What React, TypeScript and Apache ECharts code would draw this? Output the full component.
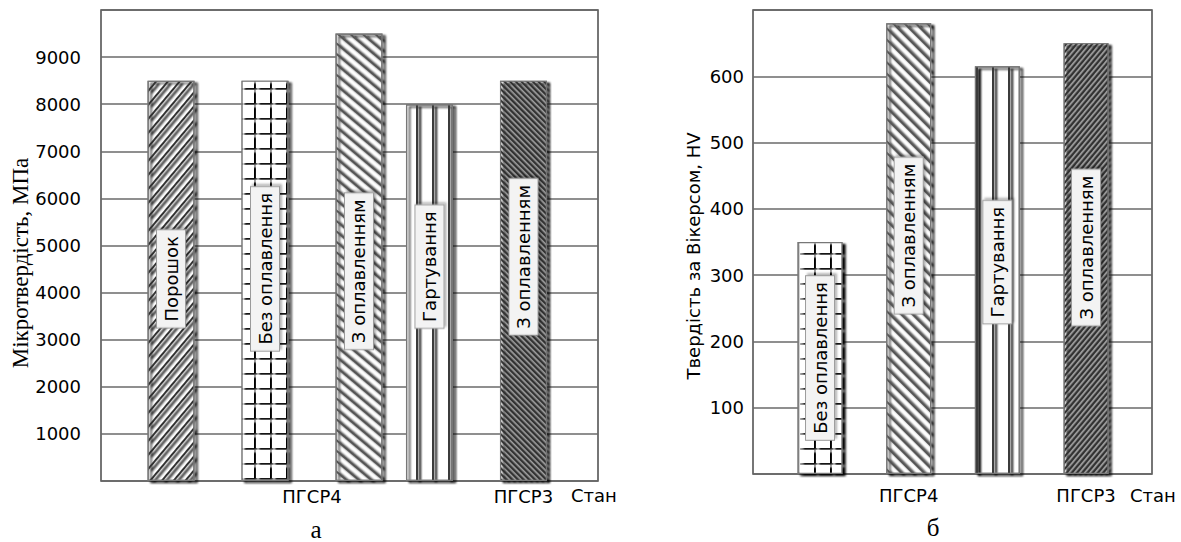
import React, { useEffect, useRef } from 'react';
import * as echarts from 'echarts';

// ---------- data ----------
const leftCategories = ['Порошок', 'Без оплавлення', 'З оплавленням', 'Гартування', 'З оплавленням'];
const leftValues = [8500, 8500, 9500, 8000, 8500];
const leftGroups = ['ПГСР4', 'ПГСР3'];
const leftYTitle = 'Мікротвердість, МПа';

const rightCategories = ['Без оплавлення', 'З оплавленням', 'Гартування', 'З оплавленням'];
const rightValues = [350, 680, 615, 650];
const rightGroups = ['ПГСР4', 'ПГСР3'];
const rightYTitle = 'Твердість за Вікерсом, HV';

const xTitle = 'Стан';
const captions = ['а', 'б'];

// ---------- layout (axis units / px shifts) ----------
const leftSlots = [0, 1, 2, 2.75, 3.75];
const leftGroupAt = [1.5, 3.75];
const leftLabelShift = [-2, -12, 14, -26, -24];
const rightSlots = [0, 1, 2, 3];
const rightGroupAt = [1, 3];
const rightLabelShift = [0, -13, -8, -11];

const SANS = 'DejaVu Sans';
const SERIF = 'Liberation Serif';

// positive angle -> "\" stripes, negative -> "/" stripes
const stripes = (thick: number, gap: number, deg: number, color = '#333') => ({
  symbol: 'rect',
  symbolSize: 1,
  dashArrayX: [1, 0],
  dashArrayY: [thick, gap],
  rotation: (deg * Math.PI) / 180,
  color,
  backgroundColor: '#fff',
});
const gridPattern = {
  symbol: 'rect',
  symbolSize: 1,
  dashArrayX: [14, 2],
  dashArrayY: [13, 2],
  color: '#fff',
  backgroundColor: '#3a3a3a',
};
const verticalPattern = {
  symbol: 'rect',
  symbolSize: 1,
  dashArrayX: [2, 14],
  dashArrayY: [1, 0],
  color: '#3a3a3a',
  backgroundColor: '#fff',
};

const leftDecals = [
  stripes(2, 7, -50, '#333'),
  gridPattern,
  stripes(1.5, 5.5, 40, '#555'),
  verticalPattern,
  stripes(2, 2, 45, '#333'),
];
const rightDecals = [
  gridPattern,
  stripes(1.5, 5.5, 45, '#555'),
  verticalPattern,
  stripes(2, 2, -50, '#333'),
];

const barItemStyle = {
  color: '#fff',
  borderColor: '#777',
  borderWidth: 1.2,
  shadowColor: 'rgba(0,0,0,0.25)',
  shadowBlur: 2,
  shadowOffsetX: 3,
  shadowOffsetY: 2,
};

const labelStyle = {
  show: true,
  position: 'inside',
  rotate: 90,
  fontFamily: SANS,
  fontSize: 18,
  color: '#000',
  backgroundColor: '#f3f3f3',
  borderColor: '#9a9a9a',
  borderWidth: 1,
  padding: [5, 6],
  shadowColor: 'rgba(0,0,0,0.3)',
  shadowBlur: 2,
  shadowOffsetX: 2,
  shadowOffsetY: 2,
};

const axisText = { fontFamily: SANS, fontSize: 18, color: '#000' };

// rotated (90°) label: local x points up on screen
const shiftDown = (s: number) => [-s, 0];

export default function App() {
  const ref = useRef<HTMLDivElement>(null);

  useEffect(() => {
    if (!ref.current) return;
    const chart = echarts.init(ref.current, null, { renderer: 'svg' });

    const option: any = {
      animation: false,
      backgroundColor: '#fff',
      grid: [
        { left: 101, top: 10, width: 497, height: 471, show: true, borderColor: '#4a4a4a', borderWidth: 1.5, backgroundColor: 'transparent' },
        { left: 753, top: 10, width: 399, height: 464, show: true, borderColor: '#4a4a4a', borderWidth: 1.5, backgroundColor: 'transparent' },
      ],
      xAxis: [
        {
          type: 'value',
          gridIndex: 0,
          min: -0.745,
          max: 4.543,
          splitLine: { show: false },
          axisLine: { show: false },
          axisTick: { show: false },
          axisLabel: {
            ...axisText,
            margin: 6,
            customValues: leftGroupAt,
            formatter: (v: number) => {
              const i = leftGroupAt.indexOf(v);
              return i >= 0 ? leftGroups[i] : '';
            },
          },
          name: xTitle,
          nameLocation: 'end',
          nameGap: -27,
          nameTextStyle: { ...axisText, align: 'left', verticalAlign: 'top', padding: [5, 0, 0, 0] },
        },
        {
          type: 'value',
          gridIndex: 1,
          min: -0.756,
          max: 3.744,
          splitLine: { show: false },
          axisLine: { show: false },
          axisTick: { show: false },
          axisLabel: {
            ...axisText,
            margin: 12,
            customValues: rightGroupAt,
            formatter: (v: number) => {
              const i = rightGroupAt.indexOf(v);
              return i >= 0 ? rightGroups[i] : '';
            },
          },
          name: xTitle,
          nameLocation: 'end',
          nameGap: -22,
          nameTextStyle: { ...axisText, align: 'left', verticalAlign: 'top', padding: [12, 0, 0, 0] },
        },
      ],
      yAxis: [
        {
          type: 'value',
          gridIndex: 0,
          min: 0,
          max: 10000,
          interval: 1000,
          axisLine: { show: false },
          axisTick: { show: false },
          axisLabel: { ...axisText, margin: 20, showMinLabel: false, showMaxLabel: false, formatter: (v: number) => String(v) },
          splitLine: { lineStyle: { color: '#6a6a6a', width: 1.5 } },
        },
        {
          type: 'value',
          gridIndex: 1,
          min: 0,
          max: 700,
          interval: 100,
          axisLine: { show: false },
          axisTick: { show: false },
          axisLabel: { ...axisText, margin: 9, showMinLabel: false, showMaxLabel: false, formatter: (v: number) => String(v) },
          splitLine: { lineStyle: { color: '#6a6a6a', width: 1.5 } },
        },
      ],
      series: [
        {
          type: 'bar',
          xAxisIndex: 0,
          yAxisIndex: 0,
          barWidth: 47,
          label: { ...labelStyle, formatter: (p: any) => leftCategories[p.dataIndex] },
          data: leftValues.map((v, i) => ({
            value: [leftSlots[i], v],
            itemStyle: { ...barItemStyle, decal: leftDecals[i] },
            label: { offset: shiftDown(leftLabelShift[i]) },
          })),
        },
        {
          type: 'bar',
          xAxisIndex: 1,
          yAxisIndex: 1,
          barWidth: 45,
          label: { ...labelStyle, formatter: (p: any) => rightCategories[p.dataIndex] },
          data: rightValues.map((v, i) => ({
            value: [rightSlots[i], v],
            itemStyle: { ...barItemStyle, decal: rightDecals[i] },
            label: { offset: shiftDown(rightLabelShift[i]) },
          })),
        },
      ],
      graphic: [
        {
          type: 'text',
          x: 20,
          y: 263,
          rotation: Math.PI / 2,
          style: { text: leftYTitle, font: `23px "${SERIF}"`, fill: '#000', align: 'center', verticalAlign: 'middle', textAlign: 'center', textVerticalAlign: 'middle' },
        },
        {
          type: 'text',
          x: 693,
          y: 256,
          rotation: Math.PI / 2,
          style: { text: rightYTitle, font: `18px "${SANS}"`, fill: '#000', align: 'center', verticalAlign: 'middle', textAlign: 'center', textVerticalAlign: 'middle' },
        },
        {
          type: 'text',
          x: 316,
          y: 529,
          style: { text: captions[0], font: `25px "${SERIF}"`, fill: '#000', align: 'center', verticalAlign: 'middle', textAlign: 'center', textVerticalAlign: 'middle' },
        },
        {
          type: 'text',
          x: 933,
          y: 527,
          style: { text: captions[1], font: `25px "${SERIF}"`, fill: '#000', align: 'center', verticalAlign: 'middle', textAlign: 'center', textVerticalAlign: 'middle' },
        },
      ],
    };

    chart.setOption(option);
    return () => chart.dispose();
  }, []);

  return (
    <div
      ref={ref}
      style={{ position: 'absolute', left: 0, top: 0, width: 1181, height: 542, background: '#fff' }}
    />
  );
}
